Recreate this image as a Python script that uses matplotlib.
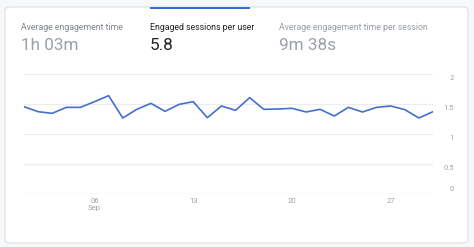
import matplotlib
matplotlib.use("Agg")
import matplotlib.pyplot as plt
from matplotlib.patches import FancyBboxPatch, Rectangle
import numpy as np

plt.rcParams['font.family'] = ['Roboto', 'DejaVu Sans']

# Data: engaged sessions per user, Sep 1 - Sep 30
days = list(range(1, 31))
values = [1.455, 1.372, 1.344, 1.444, 1.444, 1.539, 1.639, 1.267, 1.411, 1.511,
          1.378, 1.494, 1.539, 1.272, 1.467, 1.394, 1.606, 1.411, 1.417, 1.428,
          1.367, 1.411, 1.300, 1.444, 1.367, 1.444, 1.467, 1.406, 1.267, 1.372]
x_tick_days = [6, 13, 20, 27]
x_tick_labels = ['06\nSep', '13', '20', '27']
y_ticks = [0, 0.5, 1, 1.5, 2]
y_tick_labels = ['0', '0.5', '1', '1.5', '2']

metric_titles = ['Average engagement time', 'Engaged sessions per user',
                 'Average engagement time per session']
metric_values = ['1h 03m', '5.8', '9m 38s']

W, H = 474, 247
fig = plt.figure(figsize=(W / 100, H / 100), dpi=100)
fig.patch.set_facecolor('#f7f8f9')

# card
card = FancyBboxPatch((5 / W, 1 - 243 / H), 463 / W, 236 / H,
                      boxstyle="round,pad=0,rounding_size=0.012",
                      transform=fig.transFigure, facecolor='white',
                      edgecolor='#e3e4e6', linewidth=1.0, zorder=-2)
fig.patches.append(card)
# selected tab indicator
fig.patches.append(Rectangle((150 / W, 1 - 9.5 / H), 100 / W, 2.8 / H,
                             transform=fig.transFigure, facecolor='#2f6fde',
                             edgecolor='none', zorder=-1))

title_x = [21, 150, 279]
title_colors = ['#80868b', '#202124', '#9aa0a6']
value_colors = ['#9aa0a6', '#202124', '#9aa0a6']
for tx, t, v, tc, vc in zip(title_x, metric_titles, metric_values, title_colors, value_colors):
    fig.text(tx / W, 1 - 28 / H, t, fontsize=6.3, color=tc, va='center', ha='left')
    fig.text(tx / W, 1 - 45 / H, v, fontsize=12.3, color=vc, va='center', ha='left')

# axes: x from 24 to 433 px, y=0 at 194 px, y=2 at 74 px
left, right = 24 / W, 433 / W
bottom, top = 1 - 194 / H, 1 - 74 / H
ax = fig.add_axes([left, bottom, right - left, top - bottom])
ax.set_zorder(2)
ax.set_facecolor('none')
ax.plot(days, values, color='#4470cc', linewidth=1.2, zorder=3)
ax.set_xlim(1, 30)
ax.set_ylim(0, 2)
for s in ax.spines.values():
    s.set_visible(False)
ax.set_yticks(y_ticks)
ax.set_yticklabels([])
ax.grid(axis='y', color='#ececee', linewidth=0.8)
ax.axhline(0, color='#e4e5e7', linewidth=0.9, zorder=1)
ax.tick_params(axis='y', length=0, left=False, labelleft=False)

# right-side value labels: just below each gridline, "0" just above the baseline
label_x_px = 454
for val, lab in zip(y_ticks, y_tick_labels):
    y_px = ax.transData.transform((1, val))[1]
    if val == 0:
        y_px += 2
        va = 'bottom'
    else:
        y_px -= 1.5
        va = 'top'
    fig.text(label_x_px / W, y_px / H, lab, ha='right', va=va,
             fontsize=5.6, color='#a0a4a8', zorder=5)

ax.set_xticks(x_tick_days)
ax.set_xticklabels(x_tick_labels)
ax.tick_params(axis='x', length=0, pad=3, labelsize=5.6, labelcolor='#a0a4a8')
for lbl in ax.get_xticklabels():
    lbl.set_linespacing(1.1)

fig.savefig('out.png', dpi=100, facecolor=fig.get_facecolor())
